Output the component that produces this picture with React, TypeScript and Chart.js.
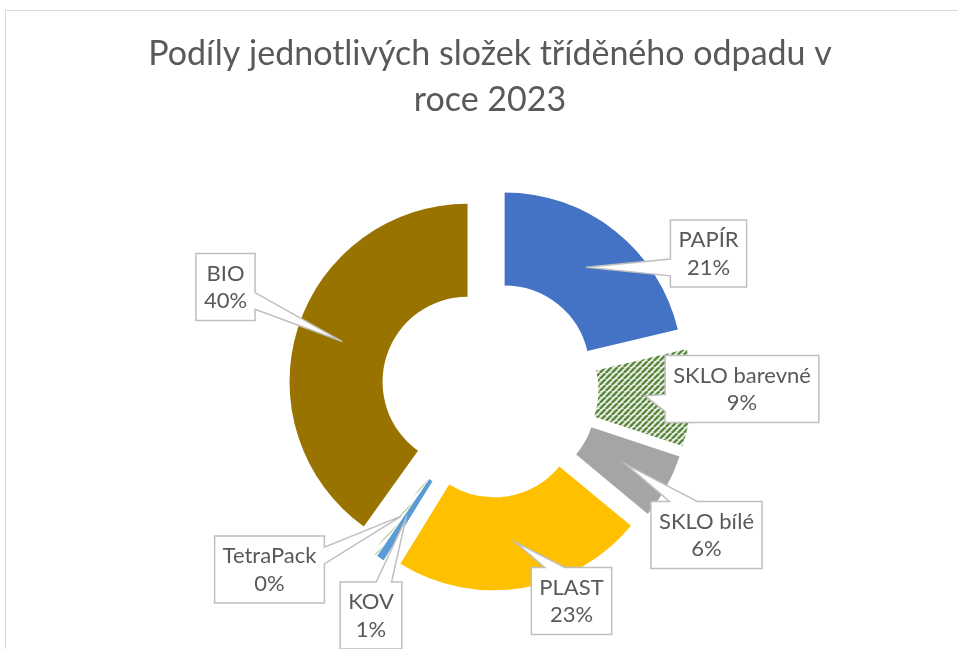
import React, { useEffect, useRef } from 'react';
import { Chart, registerables } from 'chart.js';

Chart.register(...registerables);

// ---- data ----
const CATEGORIES = ['PAPÍR', 'SKLO barevné', 'SKLO bílé', 'PLAST', 'KOV', 'TetraPack', 'BIO'];
const VALUES = [21.3, 8.8, 5.9, 22.8, 0.7, 0.4, 40.1];
const COLORS = ['#4472c4', '#548235', '#a5a5a5', '#ffc000', '#5b9bd5', '#70ad47', '#997300'];
const HATCHED = [false, true, false, false, false, true, false];
const TITLE_LINES = ['Podíly jednotlivých složek tříděného odpadu v', 'roce 2023'];

// ---- layout / style ----
const W = 958;
const H = 649;
const FONT = 'Lato, "Open Sans", sans-serif';
const TEXT_COLOR = '#595959';
const EXPLODE = 23.6;
const LABEL_FONT_SIZE = 22;
// label box centres, relative to the doughnut centre
const LABEL_OFFSETS: [number, number][] = [
  [218.5, -135.5],
  [252, 0],
  [216.5, 146],
  [81.5, 212],
  [-119, 226.5],
  [-220.5, 180.5],
  [-264.5, -102],
];

function makeHatch(color: string, size: number, lw: number, bg: string | null) {
  const c = document.createElement('canvas');
  c.width = size;
  c.height = size;
  const g = c.getContext('2d')!;
  if (bg) {
    g.fillStyle = bg;
    g.fillRect(0, 0, size, size);
  }
  g.strokeStyle = color;
  g.lineWidth = lw;
  g.beginPath();
  for (const o of [-size, 0, size]) {
    g.moveTo(o, size);
    g.lineTo(o + size, 0);
  }
  g.stroke();
  return g.createPattern(c, 'repeat');
}

function calloutPath(ctx: CanvasRenderingContext2D, l: number, t: number, w: number, h: number, tx: number, ty: number) {
  const r = l + w;
  const b = t + h;
  const hc = l + w / 2;
  const vc = t + h / 2;
  const dxPos = tx - hc;
  const dyPos = ty - vc;
  const dq = (dxPos * h) / w;
  const dz = Math.abs(dyPos) - Math.abs(dq);
  const xg1 = dxPos > 0 ? 7 : 2;
  const xg2 = dxPos > 0 ? 10 : 5;
  const yg1 = dyPos > 0 ? 7 : 2;
  const yg2 = dyPos > 0 ? 10 : 5;
  const x1 = l + (w * xg1) / 12;
  const x2 = l + (w * xg2) / 12;
  const y1 = t + (h * yg1) / 12;
  const y2 = t + (h * yg2) / 12;
  ctx.beginPath();
  ctx.moveTo(l, t);
  if (dz > 0 && dyPos < 0) {
    ctx.lineTo(x1, t);
    ctx.lineTo(tx, ty);
    ctx.lineTo(x2, t);
  }
  ctx.lineTo(r, t);
  if (dz <= 0 && dxPos > 0) {
    ctx.lineTo(r, y1);
    ctx.lineTo(tx, ty);
    ctx.lineTo(r, y2);
  }
  ctx.lineTo(r, b);
  if (dz > 0 && dyPos > 0) {
    ctx.lineTo(x2, b);
    ctx.lineTo(tx, ty);
    ctx.lineTo(x1, b);
  }
  ctx.lineTo(l, b);
  if (dz <= 0 && dxPos < 0) {
    ctx.lineTo(l, y2);
    ctx.lineTo(tx, ty);
    ctx.lineTo(l, y1);
  }
  ctx.closePath();
}

const explodePlugin = {
  id: 'explode',
  beforeDatasetDraw(chart: any, args: any) {
    const ctx = chart.ctx;
    args.meta.data.forEach((arc: any) => {
      const mid = (arc.startAngle + arc.endAngle) / 2;
      ctx.save();
      ctx.translate(Math.cos(mid) * EXPLODE, Math.sin(mid) * EXPLODE);
      arc.draw(ctx);
      ctx.restore();
    });
    return false;
  },
};

const calloutPlugin = {
  id: 'callouts',
  afterDatasetsDraw(chart: any) {
    const ctx: CanvasRenderingContext2D = chart.ctx;
    const meta = chart.getDatasetMeta(0);
    const total = VALUES.reduce((a, b) => a + b, 0);
    const ca = chart.chartArea;
    const cx = (ca.left + ca.right) / 2;
    const cy = (ca.top + ca.bottom) / 2;
    ctx.save();
    ctx.font = `${LABEL_FONT_SIZE}px ${FONT}`;
    meta.data.forEach((arc: any, i: number) => {
      const mid = (arc.startAngle + arc.endAngle) / 2;
      const p = arc.getCenterPoint();
      const tx = p.x + Math.cos(mid) * EXPLODE;
      const ty = p.y + Math.sin(mid) * EXPLODE;
      const lines = [CATEGORIES[i], Math.round((VALUES[i] / total) * 100) + '%'];
      const tw = Math.max(...lines.map((s) => ctx.measureText(s).width));
      const w = tw + 16;
      const h = 67;
      const [ox, oy] = LABEL_OFFSETS[i];
      const l = cx + ox - w / 2;
      const t = cy + oy - h / 2;
      calloutPath(ctx, l, t, w, h, tx, ty);
      ctx.fillStyle = '#ffffff';
      ctx.fill();
      ctx.strokeStyle = '#bfbfbf';
      ctx.lineWidth = 1.5;
      ctx.lineJoin = 'miter';
      ctx.stroke();
      ctx.fillStyle = TEXT_COLOR;
      ctx.textAlign = 'center';
      ctx.textBaseline = 'middle';
      ctx.fillText(lines[0], l + w / 2, t + h / 2 - 13.5);
      ctx.fillText(lines[1], l + w / 2, t + h / 2 + 14);
    });
    ctx.restore();
  },
};

export default function App() {
  const ref = useRef<HTMLCanvasElement>(null);

  useEffect(() => {
    document.body.style.margin = '0';
    const canvas = ref.current;
    if (!canvas) return;
    const bg = COLORS.map((c, i) =>
      HATCHED[i] ? (i === 1 ? makeHatch(c, 6, 2.6, '#ffffff') : makeHatch(c, 7, 1, null)) : c
    );
    const chart = new Chart(canvas, {
      type: 'doughnut',
      data: {
        labels: CATEGORIES,
        datasets: [
          {
            data: VALUES,
            backgroundColor: bg as any,
            borderWidth: 0,
            radius: 178,
            cutout: '47.75%',
          } as any,
        ],
      },
      options: {
        responsive: false,
        animation: false,
        devicePixelRatio: 1,
        layout: { padding: { left: 22, right: 0, top: 0, bottom: 11 } },
        plugins: {
          legend: { display: false },
          tooltip: { enabled: false },
          title: {
            display: true,
            text: TITLE_LINES,
            color: TEXT_COLOR,
            font: { family: FONT, size: 34, weight: 'normal' as any, lineHeight: 1.35 },
            padding: { top: 31.5, bottom: 16.7 },
          },
        },
      },
      plugins: [explodePlugin, calloutPlugin],
    });
    return () => chart.destroy();
  }, []);

  return (
    <div style={{ position: 'relative', width: W, height: H, overflow: 'hidden', background: '#fff' }}>
      <div
        style={{
          position: 'absolute',
          left: 5,
          top: 10,
          width: 1000,
          height: 800,
          border: '1px solid #d9d9d9',
          boxSizing: 'border-box',
        }}
      />
      <canvas ref={ref} width={W} height={H} style={{ position: 'absolute', left: 0, top: 0 }} />
    </div>
  );
}
